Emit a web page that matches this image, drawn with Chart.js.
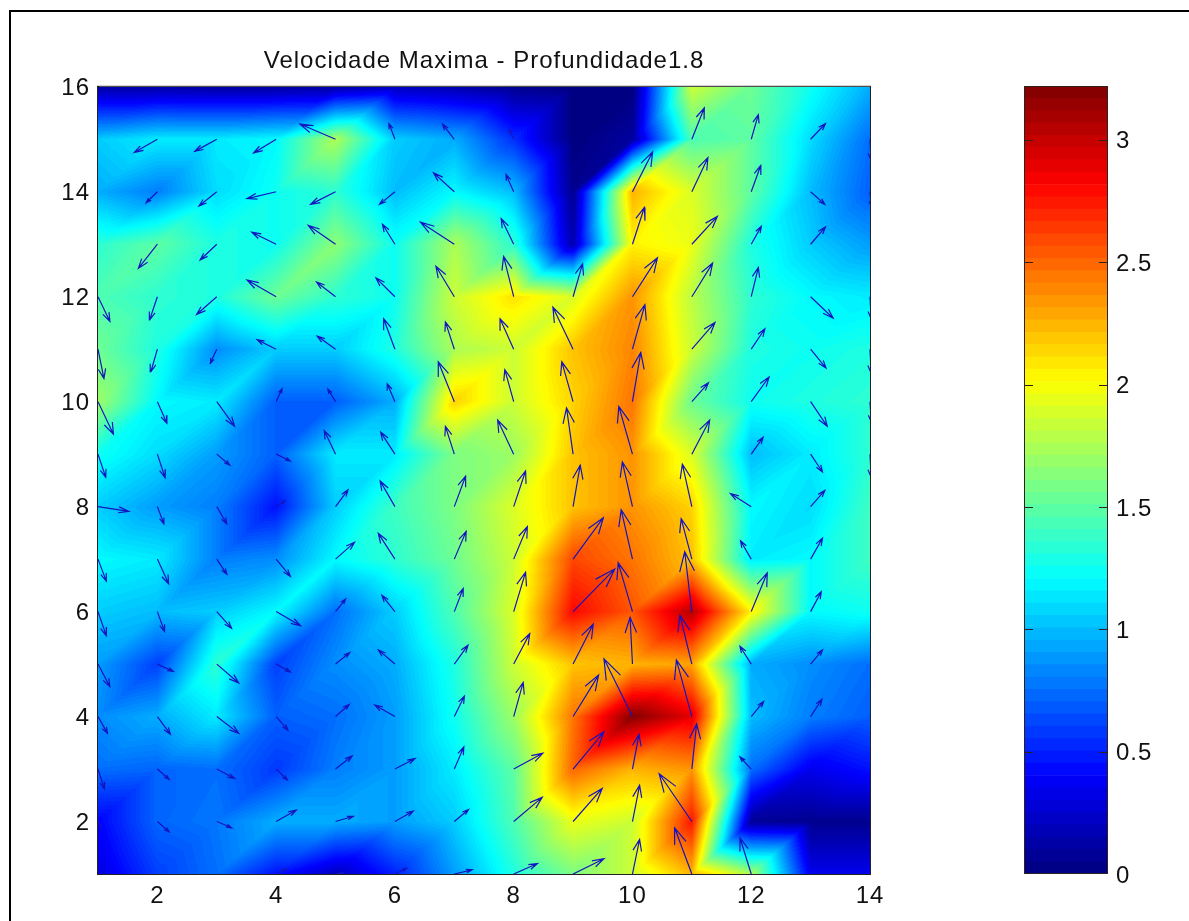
<!DOCTYPE html>
<html>
<head>
<meta charset="utf-8">
<title>Velocidade Maxima</title>
<script src="https://cdn.jsdelivr.net/npm/chart.js@4/dist/chart.umd.min.js"></script>
<style>
    html, body { margin: 0; padding: 0; background: #fff; overflow: hidden; }
    #frame { position: absolute; left: 9px; top: 10px; width: 1180px; height: 911px; border-left: 2px solid #000; border-top: 2px solid #000; }
    canvas { position: absolute; top: 0; }
    #mapChart { left: 0; }
    #barChart { left: 990px; }
</style>
</head>
<body>
<div id="frame"></div>
<canvas id="mapChart" width="1000" height="921"></canvas>
<canvas id="barChart" width="199" height="921"></canvas>
<script>
const titleText = 'Velocidade Maxima - Profundidade1.8';
const xValues = [1, 2, 3, 4, 5, 6, 7, 8, 9, 10, 11, 12, 13, 14];
const yValues = [16, 15, 14, 13, 12, 11, 10, 9, 8, 7, 6, 5, 4, 3, 2, 1];
const xTicks = [2, 4, 6, 8, 10, 12, 14];
const yTicks = [2, 4, 6, 8, 10, 12, 14, 16];
const barTicks = [0, 0.5, 1, 1.5, 2, 2.5, 3];
const speedMax = 3.22;

// one row per y value, top row first
const speed = [
    [.12, .12, .10, .10, .12, .20, .15, .05, 0, 0, 1.85, 1.55, 1.25, .95],
    [1.05, 1.15, 1.15, 1.20, 1.75, 1.05, .95, .55, 0, .10, 1.45, 1.50, 1.10, .75],
    [.95, .80, 1.10, 1.25, 1.35, 1.00, 1.20, 1.00, .05, 2.25, 1.90, 1.50, 1.00, .70],
    [1.35, 1.50, 1.30, 1.25, 1.65, 1.25, 1.75, 1.35, .15, 2.05, 1.95, 1.30, 1.05, .90],
    [1.45, 1.35, 1.30, 1.55, 1.35, 1.25, 1.85, 2.10, 1.90, 2.35, 1.80, 1.35, 1.20, 1.15],
    [1.55, 1.30, .85, 1.05, 1.05, 1.30, 1.75, 1.85, 2.20, 2.40, 1.85, 1.30, 1.25, 1.30],
    [1.70, 1.20, 1.15, .70, .70, .95, 2.15, 1.85, 2.15, 2.45, 1.55, 1.25, 1.30, 1.35],
    [1.25, 1.10, .90, .70, 1.15, 1.15, 1.60, 1.70, 2.20, 2.35, 1.90, 1.00, 1.15, 1.35],
    [1.05, .90, .80, .45, 1.05, 1.40, 1.60, 1.90, 2.20, 2.35, 2.15, 1.20, 1.10, 1.40],
    [1.20, 1.15, .80, .85, 1.20, 1.35, 1.55, 1.85, 2.60, 2.45, 2.20, 1.15, 1.20, 1.40],
    [1.05, 1.00, 1.05, 1.20, .75, 1.05, 1.45, 1.90, 2.80, 2.55, 3.05, 2.05, 1.20, 1.25],
    [.90, .60, 1.35, .60, .85, .95, 1.30, 1.85, 2.20, 2.25, 2.30, .95, .85, .75],
    [.85, .95, 1.15, .70, .75, .90, 1.25, 1.70, 2.45, 3.20, 2.90, 1.00, .80, .70],
    [.75, .72, .75, .58, .80, .90, 1.15, 1.50, 2.50, 2.25, 2.35, .75, .35, .45],
    [.40, .72, .78, .95, .95, .90, 1.05, 1.45, 1.95, 1.85, 2.75, .08, .05, .05],
    [.30, .60, .75, .45, .20, .50, .90, 1.30, 1.60, 1.85, 2.25, 1.75, .35, .35]
];

const arrowU = [
    [0, 0, 0, 0, 0, 0, 0, 0, 0, 0, 0, 0, 0, 0],
    [0, -.39, -.37, -.38, -.60, -.10, -.20, -.08, 0, 0, .21, .12, .25, .02],
    [0, -.19, -.30, -.49, -.42, -.26, -.35, -.13, 0, .34, .27, .16, .24, .02],
    [0, -.32, -.28, -.41, -.46, -.21, -.57, -.21, 0, .20, .43, .17, .25, 0],
    [.20, -.13, -.34, -.49, -.32, -.32, -.31, -.17, .16, .42, .35, .12, .38, .02],
    [.10, -.11, -.11, -.32, -.31, -.19, -.15, -.23, -.34, .21, .39, .23, .26, .02],
    [.26, .16, .30, .10, -.13, -.13, -.27, -.15, -.19, .14, .28, .30, .28, .02],
    [.13, .13, .22, .24, -.19, -.24, -.15, -.27, -.11, -.23, .30, .20, .20, .02],
    [.52, .11, .17, .15, .21, -.25, .19, .20, .12, -.17, -.16, -.35, .24, 0],
    [.14, .19, .17, .24, .32, -.28, .20, .23, .51, -.19, -.18, -.18, .20, 0],
    [.14, .12, .25, .41, .17, -.22, .15, .20, .70, -.24, -.12, .27, .18, 0],
    [.20, .27, .37, .24, .24, -.28, .23, .27, .34, -.04, -.20, -.19, .20, 0],
    [.16, .22, .37, .20, .23, -.34, .17, .16, .43, -.48, -.26, .21, .19, 0],
    [.11, .20, .30, .19, .28, .34, .16, .49, .52, .11, .08, -.19, 0, 0],
    [.05, .20, .25, .34, .30, .31, .24, .48, .49, .12, -.55, 0, 0, 0],
    [0, 0, 0, .17, .13, .20, .30, .40, .52, .12, -.29, -.19, 0, 0]
];

const arrowV = [
    [0, 0, 0, 0, 0, 0, 0, 0, 0, 0, 0, 0, 0, 0],
    [0, -.25, -.23, -.26, .29, .30, .29, .19, 0, 0, .60, .47, .30, -.40],
    [0, -.21, -.27, -.13, -.24, -.24, .36, .33, 0, .76, .65, .50, -.24, -.27],
    [0, -.46, -.30, .23, .36, .38, .42, .49, 0, .70, .53, .34, .33, 0],
    [-.47, -.44, -.34, .32, .28, .36, .58, .77, .63, .74, .64, .56, -.41, -.42],
    [-.56, -.43, -.27, .18, .25, .58, .52, .58, .80, .85, .51, .39, -.36, -.46],
    [-.62, -.41, -.47, .25, .24, .34, .76, .61, .76, .94, .36, .47, -.47, -.38],
    [-.44, -.45, -.21, -.13, .45, .42, .53, .65, .88, .91, .65, .32, -.34, -.44],
    [-.09, -.33, -.33, .11, .32, .49, .58, .68, .79, .85, .81, .25, .31, 0],
    [-.42, -.47, -.29, -.33, .32, .49, .53, .62, .79, .94, .77, .35, .40, 0],
    [-.46, -.38, -.32, -.27, .24, .31, .44, .75, .81, .93, 1.14, .74, .38, 0],
    [-.43, -.14, -.36, -.15, .22, .27, .36, .58, .76, .89, .93, .34, .27, 0],
    [-.32, -.34, -.32, -.26, .23, .22, .39, .65, .79, 1.10, 1.08, .29, .33, 0],
    [-.38, -.20, -.18, -.21, .25, .20, .42, .30, .71, .66, .86, .23, 0, 0],
    [-.09, -.20, -.12, .22, .10, .20, .23, .46, .63, .69, .91, 0, 0, 0],
    [0, 0, 0, .10, .02, .11, .08, .20, .29, .66, .88, .69, 0, 0]
];

// matlab jet
function jetColor(t) {
    const ramp = d => Math.max(0, Math.min(1, 1.5 - Math.abs(4 * t - d)));
    return [ramp(3), ramp(2), ramp(1)].map(c => Math.round(c * 255));
}

const levelColors = [];
for (let i = 0; i < 64; i++) levelColors.push(jetColor((i + 0.5) / 64));
// the map uses a finer ramp, its bands are softer than those of the bar
const mapColors = [];
for (let i = 0; i < 128; i++) mapColors.push(jetColor((i + 0.5) / 128));

function gridPoints() {
    const points = [];
    yValues.forEach((y, r) => xValues.forEach((x, c) => points.push({ x: x, y: y, v: speed[r][c] })));
    return points;
}

function arrowPoints() {
    const points = [];
    const gap = { x: NaN, y: NaN };
    const alpha = 0.33, beta = 0.33;
    yValues.forEach((y, r) => xValues.forEach((x, c) => {
        const u = arrowU[r][c], v = arrowV[r][c];
        if (u === 0 && v === 0) return;
        const tip = { x: x + u, y: y + v };
        points.push({ x: x, y: y }, tip, gap);
        points.push({ x: tip.x - alpha * (u + beta * v), y: tip.y - alpha * (v - beta * u) }, tip);
        points.push({ x: tip.x - alpha * (u - beta * v), y: tip.y - alpha * (v + beta * u) }, gap);
    }));
    return points;
}

// each grid cell is split in two triangles along its rising diagonal
function speedAt(xv, yv) {
    const cx = Math.min(Math.max(xv - 1, 0), 12.9999);
    const cy = Math.min(Math.max(16 - yv, 0), 14.9999);
    const c = Math.floor(cx), r = Math.floor(cy);
    const fx = cx - c, fy = cy - r;
    const a = speed[r][c], b = speed[r][c + 1], d = speed[r + 1][c], e = speed[r + 1][c + 1];
    if (fx + fy < 1) return a + fx * (b - a) + fy * (d - a);
    return e + (1 - fx) * (d - e) + (1 - fy) * (b - e);
}

const filledMap = {
    id: 'filledMap',
    beforeDraw(chart) { chart.ctx.letterSpacing = '1px'; },
    beforeDatasetsDraw(chart) {
        const area = chart.chartArea;
        const sx = chart.scales.x, sy = chart.scales.y;
        const left = Math.round(area.left), top = Math.round(area.top);
        const w = Math.round(area.right) - left, h = Math.round(area.bottom) - top;
        const img = chart.ctx.createImageData(w, h);
        for (let j = 0; j < h; j++) {
            const yv = sy.getValueForPixel(top + j + 0.5);
            for (let i = 0; i < w; i++) {
                const val = speedAt(sx.getValueForPixel(left + i + 0.5), yv);
                const col = mapColors[Math.min(127, Math.floor(val / speedMax * 128))];
                const k = (j * w + i) * 4;
                img.data[k] = col[0];
                img.data[k + 1] = col[1];
                img.data[k + 2] = col[2];
                img.data[k + 3] = 255;
            }
        }
        chart.ctx.putImageData(img, left, top);
    },
    afterDraw(chart) {
        const a = chart.chartArea, ctx = chart.ctx;
        ctx.save();
        ctx.strokeStyle = '#222';
        ctx.lineWidth = 1;
        ctx.strokeRect(a.left - 0.5, a.top - 0.5, a.right - a.left + 1, a.bottom - a.top + 1);
        ctx.restore();
    }
};

const barFrame = {
    id: 'barFrame',
    beforeDraw(chart) { chart.ctx.letterSpacing = '1px'; },
    afterDraw(chart) {
        const a = chart.chartArea, ctx = chart.ctx, sy = chart.scales.y;
        ctx.save();
        ctx.strokeStyle = '#302020';
        ctx.lineWidth = 1;
        ctx.strokeRect(a.left + 0.5, a.top + 0.5, a.right - a.left - 1, a.bottom - a.top - 1);
        barTicks.slice(1).forEach(t => {
            const py = Math.round(sy.getPixelForValue(t)) + 0.5;
            ctx.beginPath();
            ctx.moveTo(a.left, py); ctx.lineTo(a.left + 9, py);
            ctx.moveTo(a.right - 9, py); ctx.lineTo(a.right, py);
            ctx.stroke();
        });
        ctx.restore();
    }
};

const axisFont = { family: '"Liberation Sans", Arial, sans-serif', size: 24 };

new Chart(document.getElementById('mapChart'), {
    type: 'scatter',
    data: {
        datasets: [
            { label: 'Velocidade', data: gridPoints(), pointRadius: 0, showLine: false },
            { label: 'Direcao', data: arrowPoints(), showLine: true, pointRadius: 0, borderWidth: 1.2, borderColor: '#1414c0', spanGaps: false, tension: 0 }
        ]
    },
    options: {
        responsive: false,
        animation: false,
        layout: { padding: { right: 130 } },
        plugins: {
            legend: { display: false },
            tooltip: { enabled: false },
            title: {
                display: true,
                fullSize: false,
                text: titleText,
                color: '#111',
                font: { family: axisFont.family, size: 24, weight: 'normal' },
                padding: { top: 47, bottom: 11 }
            }
        },
        scales: {
            x: {
                type: 'linear', min: 1, max: 14,
                grid: { display: false, drawTicks: false, tickLength: 0 },
                border: { color: '#000' },
                afterBuildTicks: s => { s.ticks = xTicks.map(v => ({ value: v })); },
                afterFit: s => { s.height = 47; },
                ticks: { color: '#111', font: axisFont, maxRotation: 0, padding: 8 }
            },
            y: {
                type: 'linear', min: 1, max: 16,
                grid: { display: false, drawTicks: false, tickLength: 0 },
                border: { color: '#000' },
                afterBuildTicks: s => { s.ticks = yTicks.map(v => ({ value: v })); },
                afterFit: s => { s.width = 98; },
                ticks: { color: '#111', font: axisFont, padding: 8, labelOffset: 2 }
            }
        }
    },
    plugins: [filledMap]
});

new Chart(document.getElementById('barChart'), {
    type: 'bar',
    data: {
        labels: ['v'],
        datasets: levelColors.map((c, i) => ({
            label: 'n' + i,
            data: [[i * speedMax / 64, (i + 1) * speedMax / 64]],
            backgroundColor: `rgb(${c[0]},${c[1]},${c[2]})`,
            borderWidth: 0,
            barPercentage: 1,
            categoryPercentage: 1
        }))
    },
    options: {
        responsive: false,
        animation: false,
        layout: { padding: { left: 34, top: 86, bottom: 47 } },
        plugins: { legend: { display: false }, tooltip: { enabled: false }, title: { display: false } },
        scales: {
            x: { display: false, stacked: true },
            y: {
                position: 'right',
                min: 0, max: speedMax,
                grid: { display: false, drawTicks: false, tickLength: 0 },
                border: { display: false },
                afterBuildTicks: s => { s.ticks = barTicks.map(v => ({ value: v })); },
                afterFit: s => { s.width = 81; },
                ticks: { color: '#111', font: axisFont, padding: 8, labelOffset: 2, callback: v => String(v) }
            }
        }
    },
    plugins: [barFrame]
});
</script>
</body>
</html>
